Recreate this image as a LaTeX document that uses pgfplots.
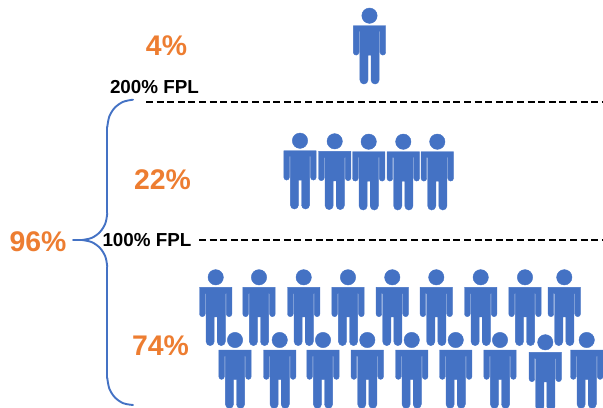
\documentclass[border=0pt]{standalone}
\usepackage{fontspec}
\setmainfont{Liberation Sans}
\usepackage{pgfplots}
\pgfplotsset{compat=1.18}
\definecolor{personblue}{HTML}{4472C4}
\definecolor{pctorange}{HTML}{ED7D31}
\pgfdeclareplotmark{person}{%
  \fill[x=1bp,y=1bp,personblue] (0,0) circle[radius=7.7];
  \fill[x=1bp,y=1bp,personblue] (-16.2,-10) -- (16.2,-10) -- (16.2,-36.6)
    arc[start angle=0,end angle=-180,radius=2.8] -- (10.6,-16) -- (9.6,-16) -- (9.6,-64.3)
    arc[start angle=0,end angle=-180,radius=4.05] -- (1.5,-39.5) -- (-1.5,-39.5) -- (-1.5,-64.3)
    arc[start angle=0,end angle=-180,radius=4.05] -- (-9.6,-16) -- (-10.6,-16) -- (-10.6,-36.6)
    arc[start angle=0,end angle=-180,radius=2.8] -- cycle;
}
\begin{document}
\begin{tikzpicture}
\begin{axis}[
  name=main, anchor=south west, at={(0,0)},
  scale only axis, width=603bp, height=408bp,
  xmin=0, xmax=603, ymin=0, ymax=408, y dir=reverse,
  hide axis, clip=true,
]
% dashed FPL lines
\addplot[black, line width=2.7bp, dash pattern=on 7bp off 3.6bp, forget plot] coordinates {(146,102) (603,102)};
\addplot[black, line width=2.7bp, dash pattern=on 7bp off 3.6bp, forget plot] coordinates {(199,240) (603,240)};
% brace
\pgfplotsset{brace/.style={personblue, line width=1.9bp, forget plot, line cap=round}}
\addplot[brace, smooth, tension=0.55] coordinates {(133,99.7) (123.2,101.8) (114.8,107.7) (109.3,116.5) (107.3,127)};
\addplot[brace] coordinates {(107.3,127) (107.3,213)};
\addplot[brace, smooth, tension=0.55] coordinates {(107.3,213) (105.4,223.3) (99.9,232.1) (91.7,237.9) (82,240)};
\addplot[brace, smooth, tension=0.55] coordinates {(82,240) (91.7,242.1) (99.9,247.9) (105.4,256.7) (107.3,267)};
\addplot[brace] coordinates {(107.3,267) (107.3,378)};
\addplot[brace, smooth, tension=0.55] coordinates {(107.3,378) (109.3,388.5) (114.8,397.3) (123.2,403.2) (133,405)};
\addplot[brace] coordinates {(73,240) (84,240)};
% people
\addplot[only marks, mark=person, forget plot] coordinates {(369.5,15.7)};
\addplot[only marks, mark=person, forget plot] coordinates {
 (300,140.7) (334.7,141.3) (368.7,141.7) (403.3,141.7) (437.3,141.7)};
\addplot[only marks, mark=person, forget plot] coordinates {
 (215.7,277.3) (259,277.3) (303.7,277.3) (348,277.3) (392.3,277.3) (436.3,277.3) (480.7,277.3) (525,277.3) (564.3,277.3)};
\addplot[only marks, mark=person, forget plot] coordinates {
 (235,340) (279.7,340) (323,340) (367.3,340) (411.7,340) (455.7,340) (500,340) (545.3,342.3) (586.7,340)};
% labels
\newcommand{\pct}[3]{\node[text=pctorange,font=\fontsize{28.5}{28.5}\selectfont\bfseries,anchor=center] at (axis cs:#1,#2) {#3};}
\pct{166.5}{46}{4\%}
\pct{162.5}{180}{22\%}
\pct{160.5}{346}{74\%}
\pct{38}{242}{96\%}
\node[font=\fontsize{18.9}{18.9}\selectfont\bfseries,anchor=center] at (axis cs:154.5,87.5) {200\% FPL};
\node[font=\fontsize{18.9}{18.9}\selectfont\bfseries,anchor=center] at (axis cs:147,240) {100\% FPL};
\end{axis}
\pgfresetboundingbox
\path[use as bounding box] (main.south west) rectangle (main.north east);
\end{tikzpicture}
\end{document}
